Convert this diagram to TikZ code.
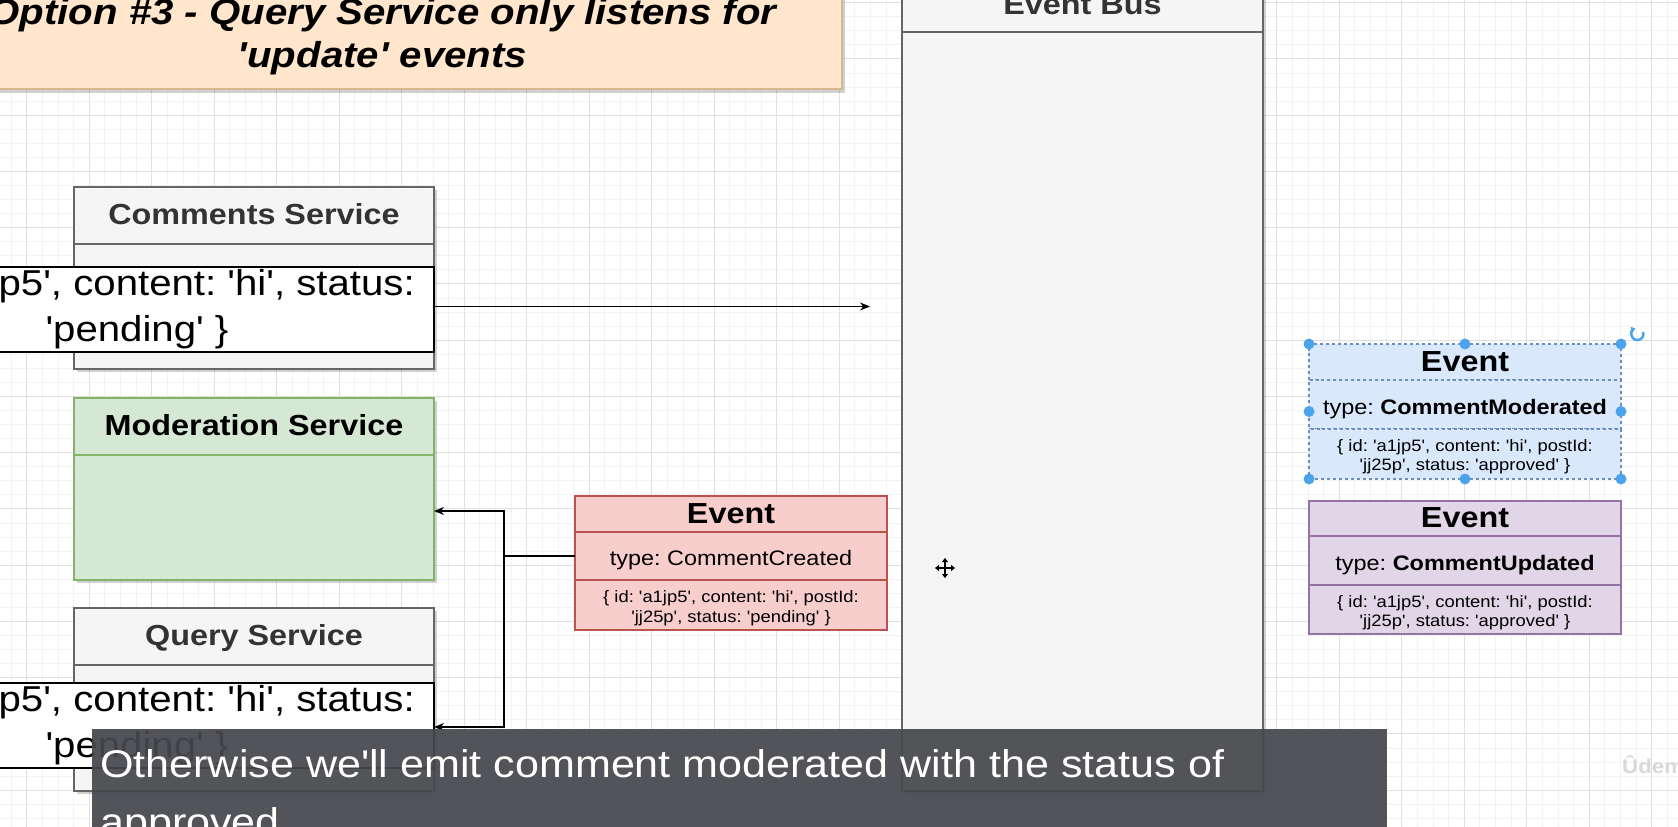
\documentclass[tikz,border=0pt]{standalone}
\usepackage{fontspec}
\setmainfont{Liberation Sans}[FakeStretch=1.116,Ligatures=TeXOff]
\usetikzlibrary{arrows.meta}
\definecolor{gridmin}{HTML}{F3F3F3}
\definecolor{gridmaj}{HTML}{E0E0E0}
\definecolor{peach}{HTML}{FFE6CC}
\definecolor{peachd}{HTML}{D7B98F}
\definecolor{gfill}{HTML}{F5F5F5}
\definecolor{gdraw}{HTML}{666666}
\definecolor{gtext}{HTML}{333333}
\definecolor{grfill}{HTML}{D5E8D4}
\definecolor{grdraw}{HTML}{82B366}
\definecolor{rfill}{HTML}{F8CECC}
\definecolor{rdraw}{HTML}{B85450}
\definecolor{bfill}{HTML}{DAE8FC}
\definecolor{bdraw}{HTML}{6C8EBF}
\definecolor{pfill}{HTML}{E1D5E7}
\definecolor{pdraw}{HTML}{9673A6}
\definecolor{handle}{HTML}{4AA3EB}
\definecolor{subbg}{HTML}{47484D}
\tikzset{
  box/.style={draw, line width=1.3bp, inner sep=0pt, outer sep=0pt, minimum width=#1},
  svc/.style={box=360bp, fill=gfill, draw=gdraw, text=gtext},
  grn/.style={box=360bp, fill=grfill, draw=grdraw},
  head/.style={font=\fontsize{29bp}{35bp}\selectfont\bfseries, text height=23bp, text depth=5bp},
  typef/.style={font=\fontsize{21bp}{25bp}\selectfont, text height=22bp, text depth=3bp},
  detf/.style={font=\fontsize{16.5bp}{19.5bp}\selectfont, align=center},
  wbox/.style={draw=black, fill=white, line width=2bp, inner sep=0pt, outer sep=0pt, minimum width=594bp, minimum height=85bp, align=center, font=\fontsize{36bp}{46.5bp}\selectfont},
  conn/.style={line width=1.4bp, -{Stealth[length=10bp,width=8bp]}},
  shad/.style={fill=black, opacity=0.18},
}
\begin{document}
\frenchspacing
\begin{tikzpicture}[x=1bp,y=-1bp]
\useasboundingbox (0,0) rectangle (1678,827);
\clip (0,0) rectangle (1678,827);
\fill[white] (0,0) rectangle (1678,827);
% grid
\foreach \i in {0,...,108} \draw[gridmin, line width=0.8bp] ({-4.55+\i*15.625},0) -- ++(0,827);
\foreach \i in {0,...,60} \draw[gridmin, line width=0.8bp] (0,{-11.46+\i*14.0625}) -- ++(1678,0);
\foreach \i in {0,...,26} \draw[gridmaj, line width=1bp] ({26.7+\i*62.5},0) -- ++(0,827);
\foreach \i in {0,...,14} \draw[gridmaj, line width=1bp] (0,{2.6+\i*56.25}) -- ++(1678,0);

% title
\fill[shad] (-74,-22) rectangle (845,93);
\draw[fill=peach, draw=peachd, line width=1.5bp] (-77,-25) rectangle (842,89);
\node[font=\fontsize{36bp}{43bp}\selectfont\bfseries\itshape, anchor=base, inner sep=0pt] (t1) at (382.5,24) {Option \#3 - Query Service only listens for};
\node[font=\fontsize{36bp}{43bp}\selectfont\bfseries\itshape, anchor=base, inner sep=0pt] (t2) at (382.5,67) {'update' events};

% Comments Service
\fill[shad] (77,190) rectangle (437,372);
\node[svc, head, minimum height=57bp] (cs) at (254,215.5) {Comments Service};
\node[svc, minimum height=125bp] (csb) at (254,306.5) {};
\node[wbox] (cw) at (137,309) {\{ id: 'a1jp5', content: 'hi', status:\\'pending' \}};

% Moderation Service
\fill[shad] (77,401) rectangle (437,583);
\node[grn, head, minimum height=57bp] (ms) at (254,426.5) {Moderation Service};
\node[grn, minimum height=125bp] (msb) at (254,517.5) {};

% Query Service
\fill[shad] (77,611) rectangle (437,794);
\node[svc, head, minimum height=57bp] (qs) at (254,636.5) {Query Service};
\node[svc, minimum height=126bp] (qsb) at (254,728) {};
\node[wbox] (qw) at (137,725) {\{ id: 'a1jp5', content: 'hi', status:\\'pending' \}};

% Event Bus
\fill[shad] (905,-19) rectangle (1266,794);
\node[svc, head, minimum width=361bp, minimum height=54bp] (eb) at (1082.5,5) {Event Bus};
\node[svc, minimum width=361bp, minimum height=759bp] (ebb) at (1082.5,411.5) {};

% Event CommentCreated
\node[box=312bp, fill=rfill, draw=rdraw, head, minimum height=36bp] (ec) at (731,514) {Event};
\node[box=312bp, fill=rfill, draw=rdraw, typef, minimum height=48bp] (ect) at (731,556) {type: CommentCreated};
\node[box=312bp, fill=rfill, draw=rdraw, minimum height=50bp] (ecd) at (731,605) {};
\node[detf, inner sep=0pt] (ecdt) at (731,608) {\{ id: 'a1jp5', content: 'hi', postId:\\'jj25p', status: 'pending' \}};

% Event CommentModerated (selected)
\node[box=312bp, fill=bfill, draw=bdraw, dashed, head, minimum height=36bp] (em) at (1465,362) {Event};
\node[box=312bp, fill=bfill, draw=bdraw, dashed, typef, minimum height=49bp] (emt) at (1465,404.5) {type: \textbf{CommentModerated}};
\node[box=312bp, fill=bfill, draw=bdraw, dashed, minimum height=50bp] (emd) at (1465,454) {};
\node[detf, inner sep=0pt] (emdt) at (1465,456.5) {\{ id: 'a1jp5', content: 'hi', postId:\\'jj25p', status: 'approved' \}};

% Event CommentUpdated
\node[box=312bp, fill=pfill, draw=pdraw, head, minimum height=35bp] (eu) at (1465,518.5) {Event};
\node[box=312bp, fill=pfill, draw=pdraw, typef, minimum height=49bp] (eut) at (1465,560.5) {type: \textbf{CommentUpdated}};
\node[box=312bp, fill=pfill, draw=pdraw, minimum height=49bp] (eud) at (1465,609.5) {};
\node[detf, inner sep=0pt] (eudt) at (1465,612.5) {\{ id: 'a1jp5', content: 'hi', postId:\\'jj25p', status: 'approved' \}};

% selection handles
\foreach \p in {(1309,344),(1465,344),(1621,344),(1309,411.5),(1621,411.5),(1309,479),(1465,479),(1621,479)}
  \fill[handle] \p circle (5.5);
\draw[handle, line width=2.5bp, -{Triangle[length=4bp,width=6bp]}] (1643,332) arc[start angle=-20, end angle=250, radius=6];

% connectors
\coordinate (busin) at (870,306.5);
\coordinate (jn) at (504,556);
\coordinate (modin) at (434,511);
\coordinate (qin) at (434,727);
\draw[conn] (cw.east |- busin) -- (busin);
\draw[conn] (ect.west) -- (jn) |- (modin);
\draw[conn] (jn) |- (qin);

% move cursor
\draw[line width=1.6bp, {Triangle[length=4bp,width=6bp]}-{Triangle[length=4bp,width=6bp]}] (935,568) -- (955,568);
\draw[line width=1.6bp, {Triangle[length=4bp,width=6bp]}-{Triangle[length=4bp,width=6bp]}] (945,558) -- (945,578);

% watermark
\node[text=black!15, font=\fontsize{20bp}{24bp}\selectfont\bfseries, anchor=west, inner sep=0pt] (wm) at (1622,767) {Ûdemy};

% subtitle
\fill[subbg, opacity=0.93] (92,729) rectangle (1387,840);
\node[text=white, font=\fontsize{38.6bp}{58bp}\selectfont, anchor=base west, inner sep=0pt] (s1) at (100,777) {Otherwise we'll emit comment moderated with the status of};
\node[text=white, font=\fontsize{38.6bp}{58bp}\selectfont, anchor=base west, inner sep=0pt] (s2) at (100,835) {approved};
\end{tikzpicture}
\end{document}
